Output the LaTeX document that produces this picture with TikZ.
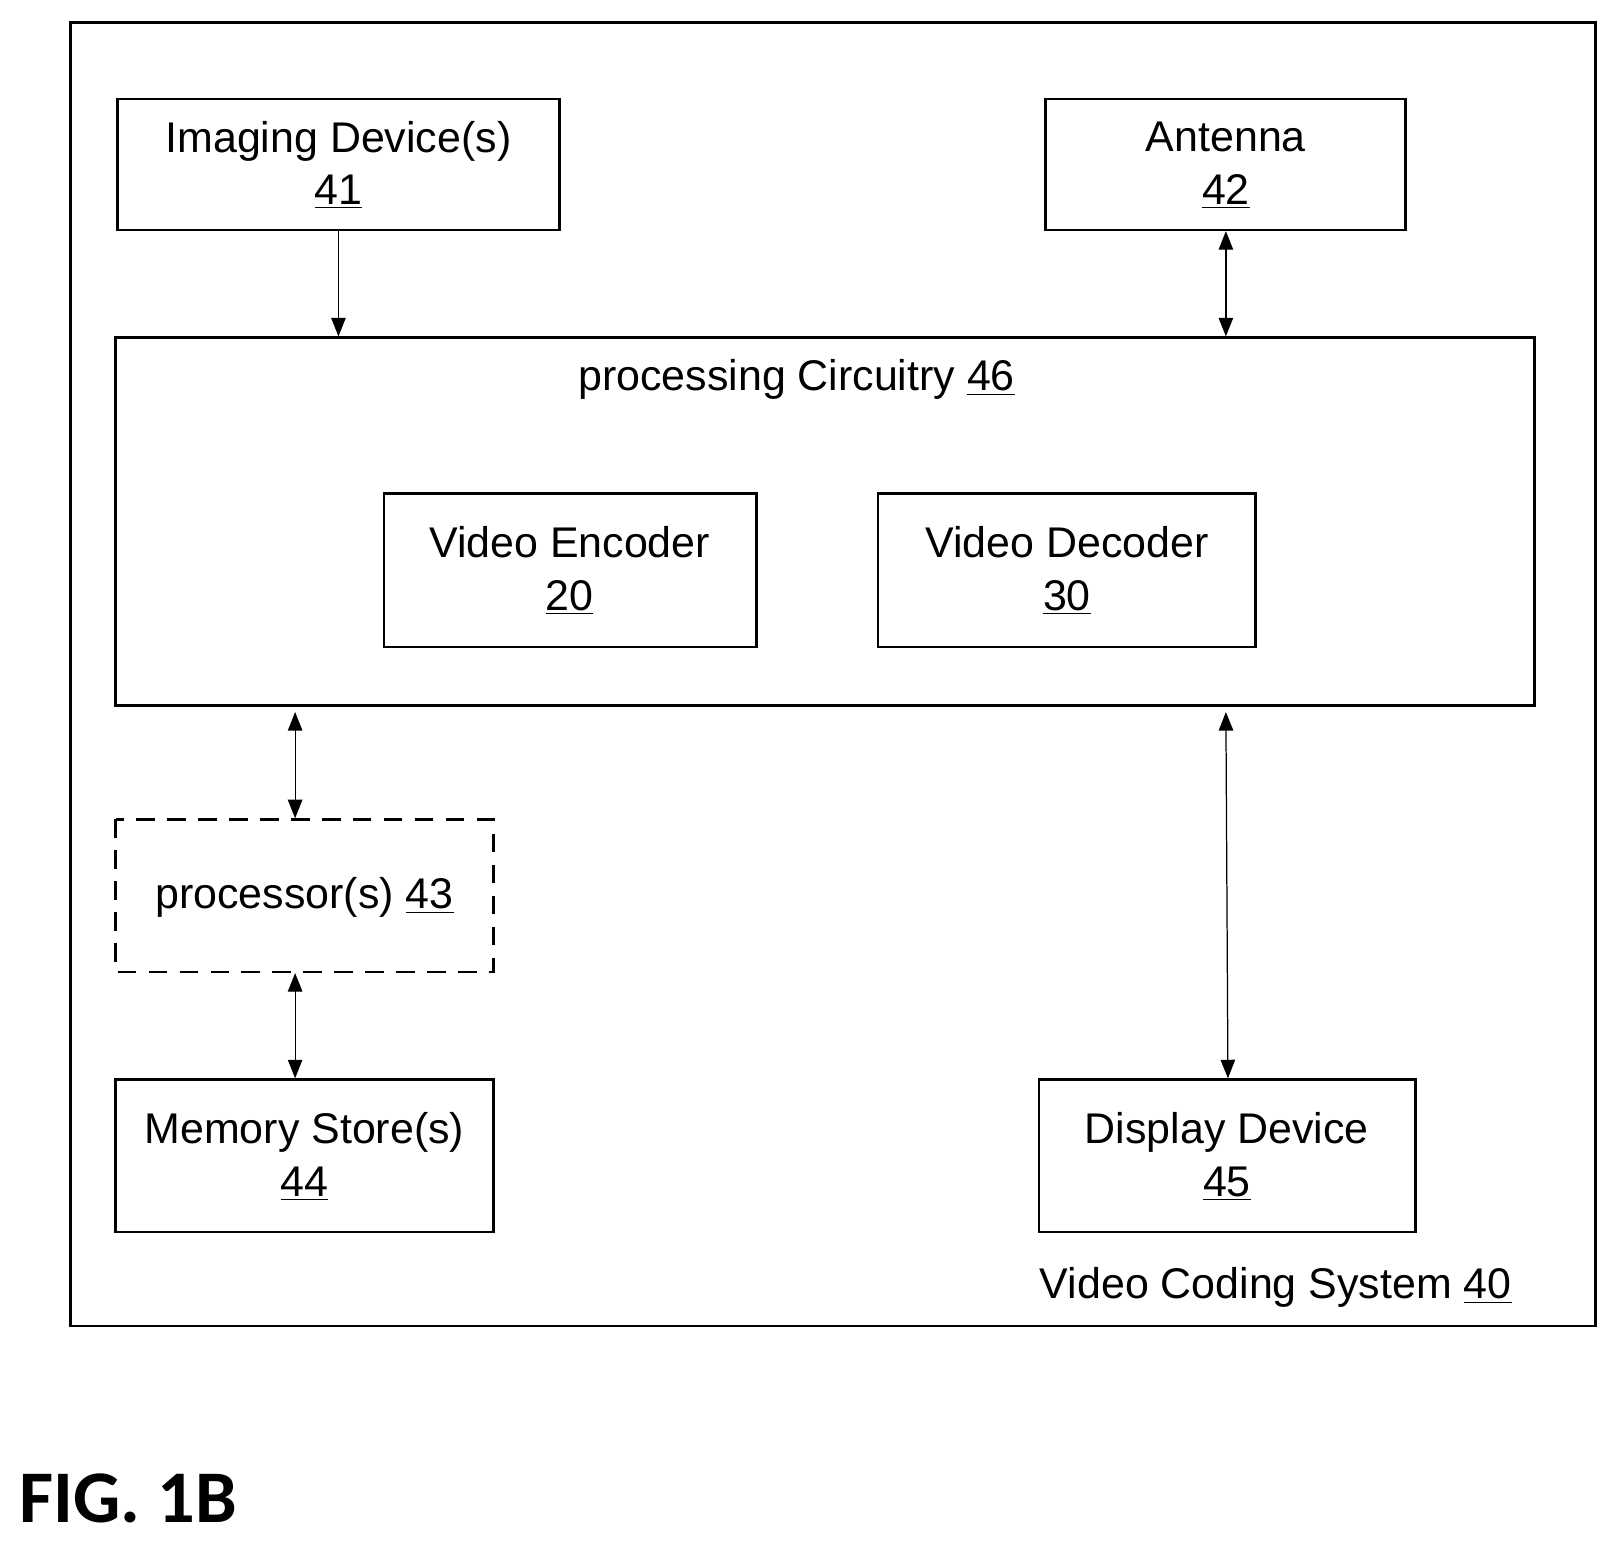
\documentclass[tikz,border=0pt]{standalone}
\usepackage{fontspec}
\setmainfont{Liberation Sans}
\newfontfamily\figfont{Carlito}
\usetikzlibrary{arrows.meta}
\begin{document}
\begin{tikzpicture}[x=0.5pt,y=-0.5pt,
  box/.style={draw,line width=1.3pt,inner sep=0pt},
  txt/.style={font=\fontsize{20.8}{25.5}\selectfont,align=center},
  arr/.style={line width=0.6pt,-{Triangle[length=9pt,width=7pt]}},
  darr/.style={line width=0.6pt,{Triangle[length=9pt,width=7pt]}-{Triangle[length=9pt,width=7pt]}}]
\useasboundingbox (0,0) rectangle (1568,1495);
\draw[line width=1.3pt] (68,22) rectangle (1546,1285);
\draw[box] (114,96) rectangle (542,223);
\node[txt] at (328,160) {Imaging Device(s)\\\underline{41}};
\draw[box] (1013,96) rectangle (1362,223);
\node[txt] at (1188,160) {Antenna\\\underline{42}};
\draw[box] (112,327) rectangle (1487,684);
\node[txt] at (772,368) {processing Circuitry \underline{46}};
\draw[box] (372,478) rectangle (733,627);
\node[txt] at (552,553) {Video Encoder\\\underline{20}};
\draw[box] (851,478) rectangle (1217,627);
\node[txt] at (1034,553) {Video Decoder\\\underline{30}};
\draw[box,dashed,dash pattern=on 9pt off 6pt] (112,794) rectangle (478,942);
\node[txt] at (295,870) {processor(s) \underline{43}};
\draw[box] (112,1046) rectangle (478,1194);
\node[txt] at (295,1121) {Memory Store(s)\\\underline{44}};
\draw[box] (1007,1046) rectangle (1372,1194);
\node[txt] at (1189,1121) {Display Device\\\underline{45}};
\node[txt,anchor=east] at (1472,1248) {Video Coding System \underline{40}};
\node[anchor=west,font=\figfont\bfseries\fontsize{36}{40}\selectfont] at (12,1452) {FIG. 1B};
\coordinate (a1) at (328,224); \coordinate (a2) at (328,326);
\coordinate (b1) at (1188,224); \coordinate (b2) at (1188,326);
\coordinate (c1) at (286,690); \coordinate (c2) at (286,793);
\coordinate (d1) at (286,943); \coordinate (d2) at (286,1045);
\coordinate (e1) at (1188,690); \coordinate (e2) at (1190,1045);
\draw[arr] (a1) -- (a2);
\draw[darr] (b1) -- (b2);
\draw[darr] (c1) -- (c2);
\draw[darr] (d1) -- (d2);
\draw[darr] (e1) -- (e2);
\end{tikzpicture}
\end{document}
